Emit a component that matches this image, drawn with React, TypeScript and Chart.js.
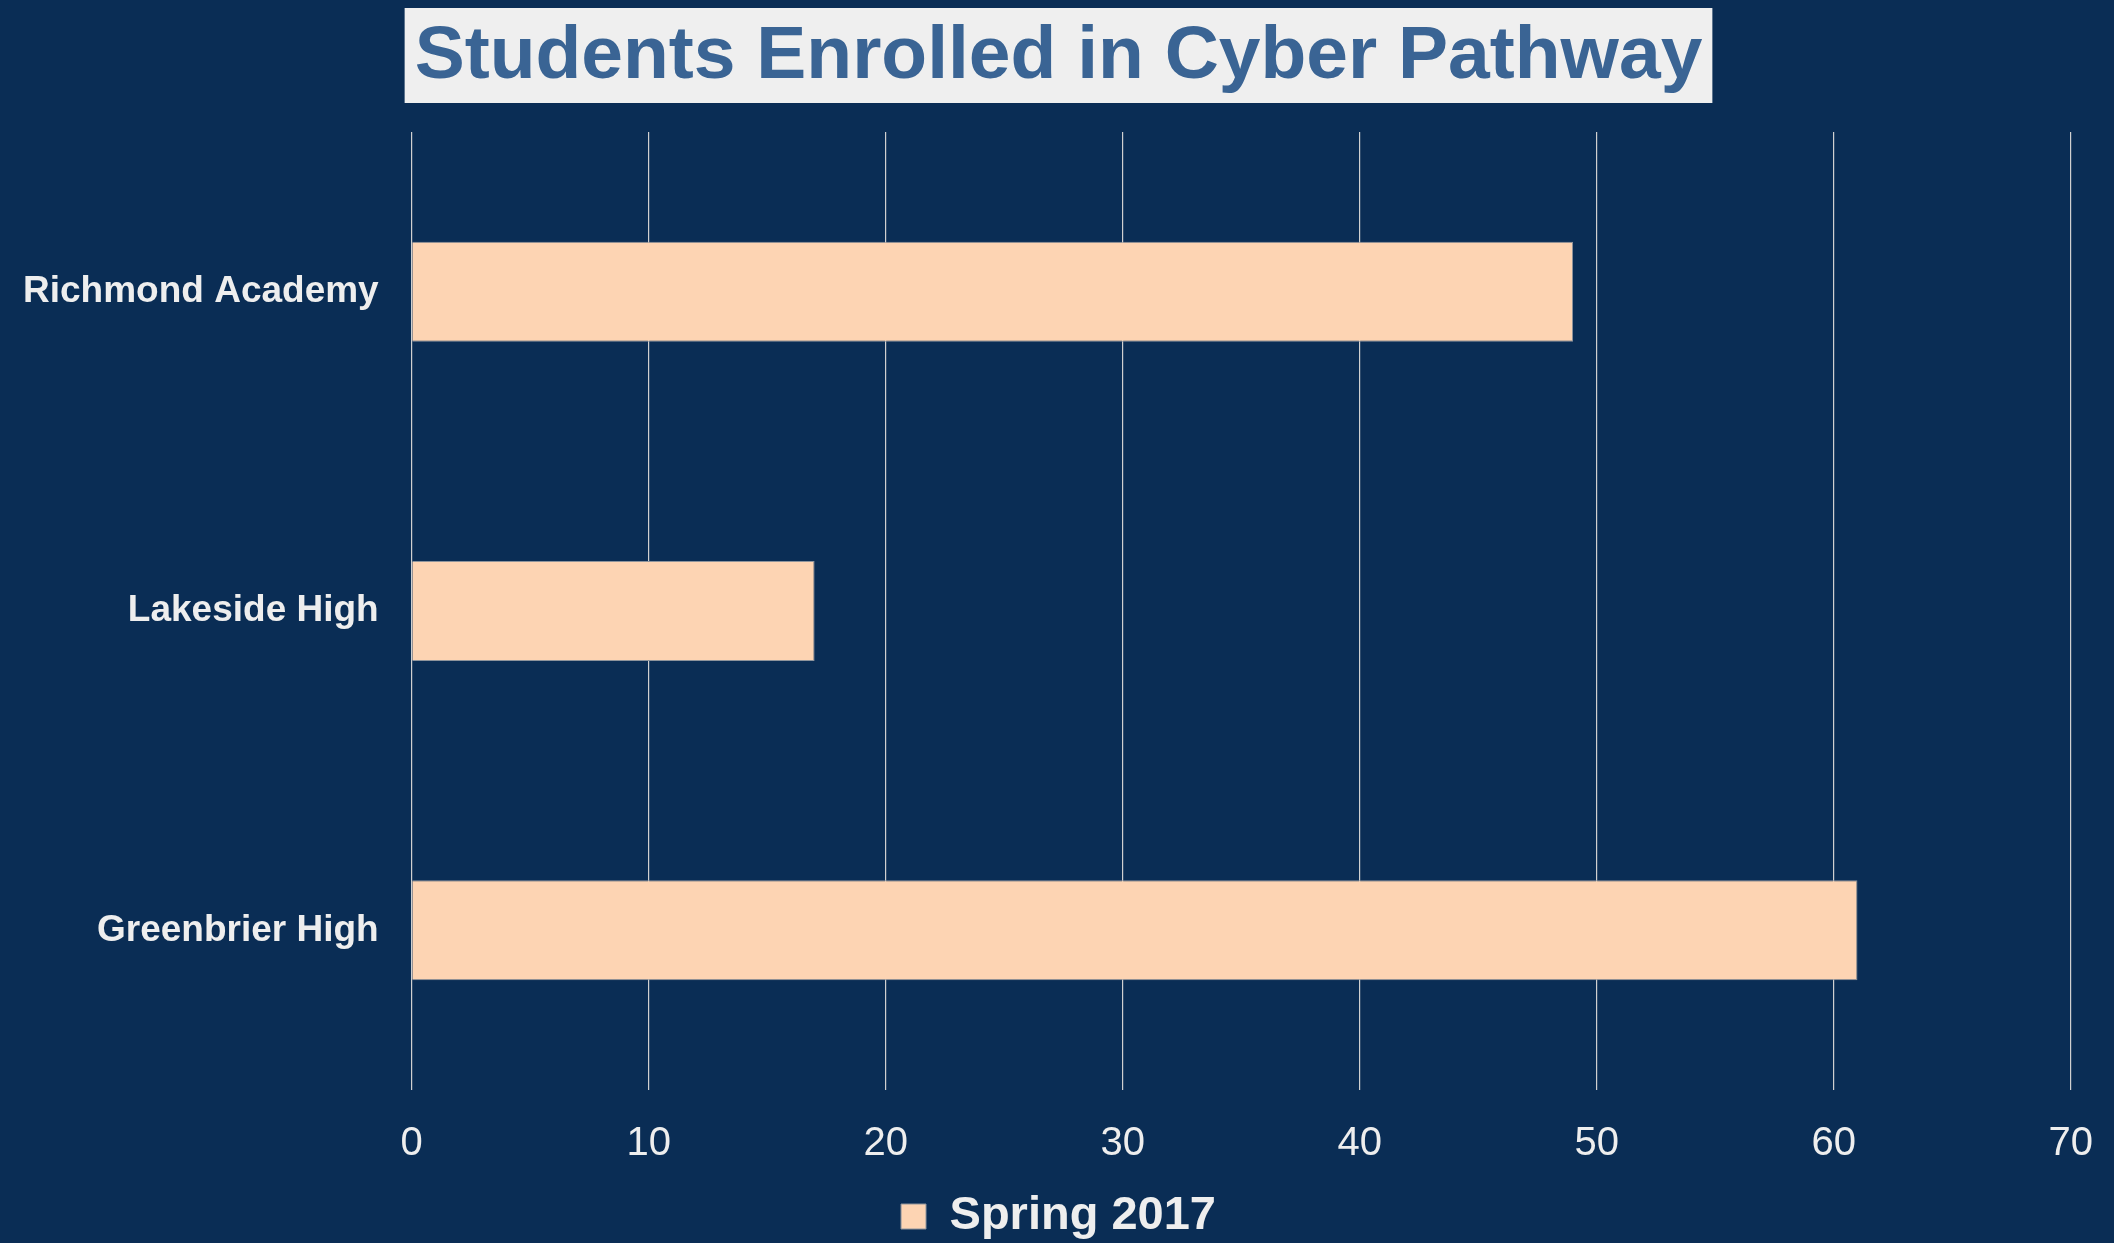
import React, { useEffect, useRef } from "react";
import { Chart, registerables } from "chart.js";

Chart.register(...registerables);

const categories = ["Richmond Academy", "Lakeside High", "Greenbrier High"];
const seriesName = "Spring 2017";
const spring2017 = [49, 17, 61];
const xMin = 0;
const xMax = 70;
const xStep = 10;
const chartTitle = "Students Enrolled in Cyber Pathway";

const FONT = "'Liberation Sans', Arial, Helvetica, sans-serif";
const BG = "#0a2d55";
const BAR = "#fdd4b3";
const TEXT = "#eeeeee";

const titleBoxPlugin = {
  id: "titleBox",
  beforeDraw(chart: any) {
    const { ctx, width, height } = chart;
    ctx.save();
    ctx.fillStyle = BG;
    ctx.fillRect(0, 0, width, height);
    const tb = chart.titleBlock;
    if (tb) {
      const opts = chart.options.plugins.title;
      const size = opts.font.size;
      ctx.font = `bold ${size}px ${FONT}`;
      const w = ctx.measureText(opts.text).width;
      const cx = (tb.left + tb.right) / 2;
      const mid = tb.top + opts.padding.top + (size * 1.2) / 2;
      ctx.fillStyle = "#efefef";
      ctx.fillRect(cx - w / 2 - 10, mid - 49, w + 20, 95);
    }
    ctx.restore();
  },
};

export default function App() {
  const ref = useRef<HTMLCanvasElement | null>(null);

  useEffect(() => {
    document.body.style.margin = "0";
    document.body.style.overflow = "hidden";
    const canvas = ref.current;
    if (!canvas) return;
    const chart = new Chart(canvas, {
      type: "bar",
      data: {
        labels: categories,
        datasets: [
          {
            label: seriesName,
            data: spring2017,
            backgroundColor: BAR,
            borderColor: "#8e949c",
            borderWidth: 1,
            barPercentage: 0.313,
            categoryPercentage: 1,
          },
        ],
      },
      options: {
        indexAxis: "y",
        animation: false,
        responsive: true,
        maintainAspectRatio: false,
        layout: { padding: { left: 23, right: 20, top: 0, bottom: -7 } },
        scales: {
          x: {
            min: xMin,
            max: xMax,
            ticks: {
              stepSize: xStep,
              color: TEXT,
              font: { family: FONT, size: 40 },
              padding: 30,
            },
            grid: { color: "#d0d0d0", lineWidth: 1.2, drawTicks: false },
            border: { display: false },
            afterFit: (scale: any) => {
              scale.height -= 30;
              scale.paddingRight = Math.max((scale.paddingRight || 0) - 9, 0);
            },
          },
          y: {
            ticks: {
              color: TEXT,
              font: { family: FONT, size: 37, weight: "bold" },
              padding: 33,
            },
            grid: { display: false, drawTicks: false },
            border: { display: false },
            afterFit: (scale: any) => {
              scale.width -= 33;
            },
          },
        },
        plugins: {
          title: {
            display: true,
            text: chartTitle,
            color: "#3a6494",
            font: { family: FONT, size: 75, weight: "bold" },
            padding: { top: 12, bottom: 30 },
          },
          legend: {
            display: true,
            position: "bottom",
            labels: {
              color: TEXT,
              font: { family: FONT, size: 47, weight: "bold" },
              boxWidth: 25,
              boxHeight: 25,
              padding: 25,
            },
          },
          tooltip: { enabled: false },
        },
      },
      plugins: [titleBoxPlugin],
    } as any);
    return () => chart.destroy();
  }, []);

  return (
    <div style={{ position: "relative", width: 2114, height: 1243, background: BG }}>
      <canvas ref={ref} />
    </div>
  );
}
